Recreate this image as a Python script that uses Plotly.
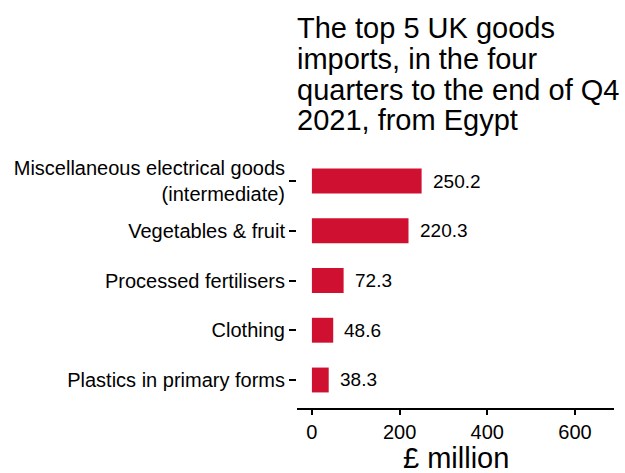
import plotly.graph_objects as go

categories = [
    "Miscellaneous electrical goods<br>(intermediate)",
    "Vegetables & fruit",
    "Processed fertilisers",
    "Clothing",
    "Plastics in primary forms",
]
values = [250.2, 220.3, 72.3, 48.6, 38.3]
value_labels = ["250.2", "220.3", "72.3", "48.6", "38.3"]
title_lines = [
    "The top 5 UK goods",
    "imports, in the four",
    "quarters to the end of Q4",
    "2021, from Egypt",
]
x_title = "£ million"

FONT = "Liberation Sans, Arial, sans-serif"
RED = "#CF1030"

fig = go.Figure()
fig.add_trace(go.Bar(
    x=values, y=categories, orientation="h",
    marker=dict(color=RED, line=dict(width=0)),
    width=0.5, hoverinfo="skip",
))

annotations = []
for v, lab, cat in zip(values, value_labels, categories):
    annotations.append(dict(
        x=v, y=cat, xref="x", yref="y", text=lab, showarrow=False,
        xanchor="left", yanchor="middle", xshift=9,
        font=dict(family=FONT, size=19, color="black"),
    ))
shifts = [125, 94, 63, 33]
for line, ys in zip(title_lines, shifts):
    annotations.append(dict(
        x=0, y=1, xref="paper", yref="paper", text=line, showarrow=False,
        xanchor="left", yanchor="middle", yshift=ys, xshift=-2,
        font=dict(family=FONT, size=29, color="black"),
    ))
annotations.append(dict(
    x=0.5, y=0, xref="paper", yref="paper", text=x_title, showarrow=False,
    xanchor="center", yanchor="middle", yshift=-50,
    font=dict(family=FONT, size=29, color="black"),
))

fig.update_layout(
    width=625, height=473,
    margin=dict(l=297, r=11, t=153, b=65),
    paper_bgcolor="white", plot_bgcolor="white",
    showlegend=False,
    font=dict(family=FONT, color="black"),
    annotations=annotations,
    xaxis=dict(
        range=[-34, 689], tickvals=[0, 200, 400, 600],
        showgrid=False, zeroline=False, automargin=False,
        showline=True, linecolor="black", linewidth=2,
        ticks="outside", ticklen=5, tickwidth=2, tickcolor="black",
        tickfont=dict(family=FONT, size=20, color="black"),
    ),
    yaxis=dict(
        autorange=False, range=[4.563, -0.563], automargin=False,
        categoryorder="array", categoryarray=categories,
        showgrid=False, zeroline=False, showline=False,
        ticks="outside", ticklen=7, tickwidth=2, tickcolor="black",
        tickfont=dict(family=FONT, size=20, color="black"),
    ),
)

fig.write_html(
    "out.html",
    config={"displayModeBar": False},
    post_script="document.body.style.margin='0px';document.body.style.overflow='hidden';",
)
